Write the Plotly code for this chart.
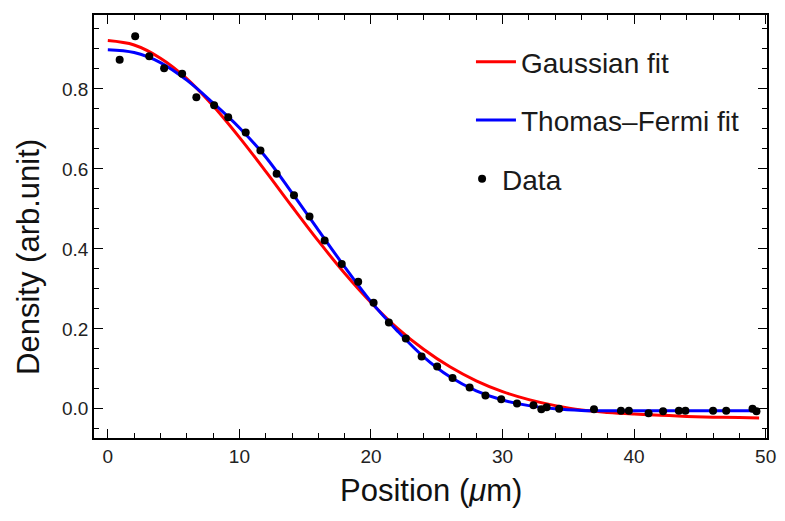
import plotly.graph_objects as go

# Measured data points
pos_data = [0.9, 2.08, 3.15, 4.28, 5.65, 6.73, 8.08, 9.15, 10.48, 11.6, 12.83, 14.15,
            15.33, 16.48, 17.78, 19.03, 20.2, 21.36, 22.65, 23.85, 25.03, 26.2, 27.5,
            28.7, 29.9, 31.1, 32.35, 32.95, 33.35, 34.3, 36.95, 39.0, 39.6, 41.1, 42.2,
            43.4, 43.9, 46.0, 47.0, 49.0, 49.3]
dens_data = [0.873, 0.932, 0.882, 0.852, 0.838, 0.779, 0.759, 0.729, 0.691, 0.646, 0.588,
             0.534, 0.481, 0.421, 0.362, 0.318, 0.265, 0.216, 0.176, 0.131, 0.106, 0.077,
             0.053, 0.033, 0.024, 0.013, 0.009, -0.001, 0.004, 0.000, -0.001, -0.005,
             -0.005, -0.011, -0.006, -0.005, -0.005, -0.005, -0.005, 0.000, -0.006]

# Fit curves
pos_fit = [0, 2, 4, 6, 8, 10, 12, 14, 16, 18, 20, 22, 24, 26, 28, 30, 32, 34, 36, 38,
           40, 42, 44, 46, 48, 49.5]
gauss_fit = [0.921, 0.910, 0.877, 0.826, 0.758, 0.679, 0.594, 0.506, 0.420, 0.339, 0.266,
             0.202, 0.149, 0.105, 0.070, 0.043, 0.023, 0.008, -0.003, -0.009, -0.013,
             -0.016, -0.019, -0.021, -0.022, -0.023]
tf_fit = [0.898, 0.891, 0.866, 0.822, 0.765, 0.703, 0.630, 0.540, 0.447, 0.355, 0.268,
          0.195, 0.130, 0.080, 0.045, 0.022, 0.008, 0.000, -0.004, -0.005, -0.005,
          -0.005, -0.005, -0.005, -0.005, -0.005]

x_ticks = [0, 10, 20, 30, 40, 50]
y_ticks = [0.0, 0.2, 0.4, 0.6, 0.8]

tick_font = dict(family="Liberation Sans, Arial, sans-serif", size=19, color="#222222")
title_font = dict(family="Liberation Sans, Arial, sans-serif", size=31, color="#111111")
legend_font = dict(family="Liberation Sans, Arial, sans-serif", size=28, color="#1a1a1a")

fig = go.Figure()
fig.add_trace(go.Scatter(x=pos_fit, y=gauss_fit, mode="lines", name="Gaussian fit",
                         line=dict(color="#ff0000", width=3, shape="spline"),
                         legendgroup="g1", legend="legend"))
fig.add_trace(go.Scatter(x=pos_fit, y=tf_fit, mode="lines", name="Thomas\u2013Fermi fit",
                         line=dict(color="#0000ff", width=3, shape="spline"),
                         legendgroup="g2", legend="legend"))
fig.add_trace(go.Scatter(x=pos_data, y=dens_data, mode="markers", name="Data",
                         marker=dict(color="black", size=8),
                         legend="legend2"))

axis_common = dict(showgrid=False, zeroline=False, showline=True, linecolor="black",
                   linewidth=1.5, mirror="ticks", ticks="inside", tickcolor="black",
                   tickwidth=1.3, ticklen=9, tickfont=tick_font)

fig.update_xaxes(range=[-1.05, 50.1], tickvals=x_ticks, ticklabelstandoff=0,
                 minor=dict(dtick=2, tick0=0, ticks="inside", ticklen=5, tickcolor="black",
                            tickwidth=1.2),
                 **axis_common)
fig.update_yaxes(range=[-0.073, 0.985], tickvals=y_ticks, tickformat=".1f",
                 ticklabelstandoff=0,
                 minor=dict(dtick=0.05, tick0=0, ticks="inside", ticklen=5, tickcolor="black",
                            tickwidth=1.2),
                 **axis_common)

fig.update_layout(
    width=785, height=521,
    margin=dict(l=94, r=9, t=15, b=83),
    paper_bgcolor="white", plot_bgcolor="white",
    legend=dict(x=(476 - 94) / 682, y=(438 - 37) / 423, xanchor="left", yanchor="top",
                bgcolor="rgba(0,0,0,0)", font=legend_font, traceorder="grouped",
                tracegroupgap=19, itemwidth=40),
    legend2=dict(x=(467 - 94) / 682, y=(438 - 154) / 423, xanchor="left", yanchor="top",
                 bgcolor="rgba(0,0,0,0)", font=legend_font, itemwidth=30),
    annotations=[
        dict(text="Position (<i>\u03bc</i>m)", xref="paper", yref="paper",
             x=0.5, y=(438 - 490) / 423, xanchor="center", yanchor="middle",
             showarrow=False, font=title_font),
        dict(text="Density (arb.unit)", xref="paper", yref="paper",
             x=(27 - 94) / 682, y=(438 - 257) / 423, xanchor="center", yanchor="middle",
             textangle=-90, showarrow=False, font=title_font),
    ],
)

fig.write_html("out.html")
